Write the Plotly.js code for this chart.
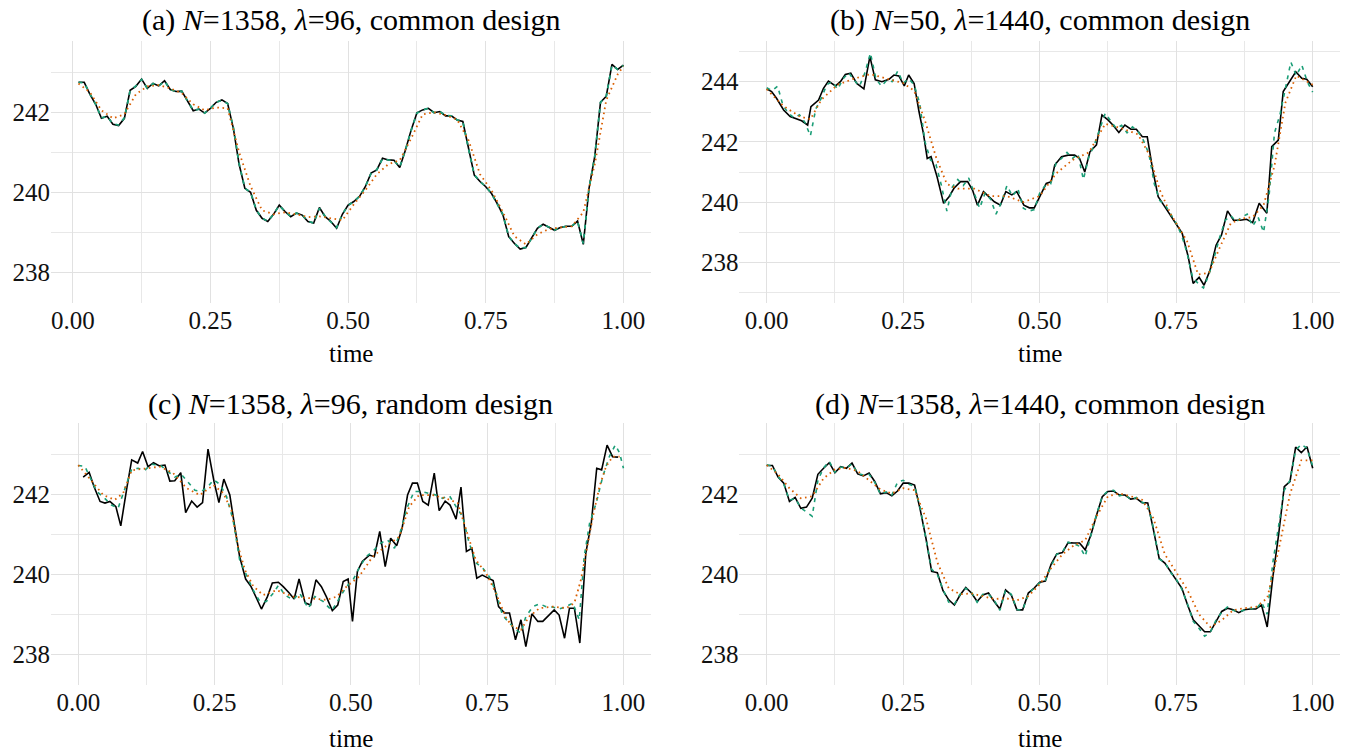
<!DOCTYPE html>
<html><head><meta charset="utf-8">
<script src="https://cdn.plot.ly/plotly-3.0.1.min.js"></script>
<style>body{margin:0;background:#fff}#chart{width:1351px;height:754px}</style>
</head><body><div id="chart"></div>
<script>
// ---------- axis ticks ----------
const xTickVals = [0, 0.25, 0.5, 0.75, 1];
const xTickText = ['0.00', '0.25', '0.50', '0.75', '1.00'];
const xMinorVals = [0.125, 0.375, 0.625, 0.875];
const yTickValsACD = [238, 240, 242];
const yMinorACD = [239, 241, 243];
const yTickValsB = [238, 240, 242, 244];
const yMinorB = [237, 239, 241, 243, 245];

const panelTitles = [
  '(a) <i>N</i>=1358, <i>λ</i>=96, common design',
  '(b) <i>N</i>=50, <i>λ</i>=1440, common design',
  '(c) <i>N</i>=1358, <i>λ</i>=96, random design',
  '(d) <i>N</i>=1358, <i>λ</i>=1440, common design'
];
const xAxisTitle = 'time';

// ---------- panel (a) : values on the grid i/96, i = 1..96 ----------
const aBlack = [242.75,242.75,242.45,242.2,241.85,241.9,241.7,241.67,241.85,242.55,
  242.65,242.83,242.6,242.72,242.66,242.79,242.57,242.52,242.53,242.3,
  242.04,242.08,241.98,242.1,242.25,242.31,242.22,241.6,240.7,240.1,
  240.0,239.55,239.35,239.27,239.45,239.68,239.52,239.39,239.48,239.43,
  239.27,239.23,239.62,239.39,239.27,239.1,239.45,239.68,239.77,239.9,
  240.14,240.48,240.56,240.85,240.81,240.8,240.62,241.06,241.56,241.99,
  242.06,242.1,241.99,242.02,241.91,241.91,241.81,241.77,241.06,240.43,
  240.27,240.14,239.97,239.72,239.43,238.89,238.72,238.58,238.62,238.85,
  239.1,239.2,239.12,239.05,239.12,239.15,239.15,239.28,238.7,240.1,
  240.9,242.25,242.4,243.2,243.07,243.18];
const aGreen = [242.75,242.74,242.46,242.2,241.86,241.9,241.71,241.68,241.86,242.54,
  242.66,242.82,242.6,242.72,242.66,242.78,242.57,242.52,242.53,242.3,
  242.05,242.08,241.98,242.1,242.25,242.3,242.22,241.62,240.72,240.1,
  240.0,239.56,239.35,239.28,239.45,239.67,239.52,239.4,239.48,239.43,
  239.28,239.23,239.6,239.4,239.27,239.12,239.45,239.67,239.77,239.9,
  240.14,240.47,240.56,240.84,240.81,240.8,240.63,241.06,241.55,241.98,
  242.06,242.1,241.99,242.02,241.92,241.91,241.81,241.77,241.08,240.44,
  240.27,240.14,239.97,239.72,239.44,238.9,238.72,238.6,238.62,238.85,
  239.1,239.2,239.12,239.06,239.12,239.15,239.16,239.27,238.72,240.1,
  240.9,242.25,242.4,243.18,243.07,243.17];
// smooth estimate at i = 1,3,...,95 and 96
const aOrange = [242.72,242.5,242.05,241.85,241.95,242.45,242.65,242.68,242.6,242.48,
  242.2,242.05,242.12,242.1,241.0,240.15,239.55,239.45,239.5,239.45,
  239.38,239.4,239.35,239.3,239.7,240.05,240.45,240.7,240.8,241.35,
  241.95,242.0,241.93,241.82,241.3,240.45,240.05,239.5,238.9,238.7,
  238.95,239.08,239.12,239.15,239.5,240.7,242.3,242.95,243.15];

// ---------- panel (b) ----------
const bBlackTime = [0,0.009,0.018,0.031,0.043,0.055,0.064,0.075,0.081,0.095,0.104,0.113,0.126,0.135,0.144,0.154,0.165,0.178,0.189,0.199,
  0.211,0.224,0.233,0.242,0.252,0.26,0.27,0.279,0.287,0.294,0.301,0.312,0.324,0.334,0.343,0.355,0.368,0.377,0.386,0.397,
  0.407,0.417,0.428,0.438,0.449,0.458,0.471,0.481,0.49,0.5,0.512,0.521,0.5275,0.54,0.552,0.564,0.573,0.5825,0.592,0.604,
  0.614,0.625,0.634,0.645,0.656,0.667,0.677,0.688,0.697,0.707,0.717,0.729,0.741,0.75,0.761,0.772,0.781,0.792,0.801,0.812,
  0.823,0.833,0.844,0.855,0.867,0.879,0.89,0.902,0.916,0.925,0.937,0.946,0.958,0.969,0.98,0.989,1.0];
const bBlack = [243.76,243.67,243.45,243.06,242.84,242.75,242.7,242.56,243.17,243.39,243.78,244.02,243.86,244.0,244.24,244.28,243.94,243.76,244.83,244.06,
  244.0,244.08,244.22,244.19,243.86,244.22,243.94,243.0,242.28,241.45,241.51,240.84,239.96,240.18,240.46,240.68,240.68,240.4,239.9,240.35,
  240.18,240.01,239.9,240.35,240.24,240.35,239.9,239.81,239.81,240.18,240.62,240.68,241.23,241.51,241.56,241.56,241.45,241.0,241.67,241.9,
  242.89,242.73,242.56,242.31,242.56,242.42,242.42,242.17,242.17,241.07,240.18,239.85,239.51,239.24,238.96,238.19,237.3,237.5,237.24,237.74,
  238.57,238.91,239.71,239.4,239.4,239.43,239.32,239.96,239.63,241.84,242.06,243.67,244.0,244.33,244.11,244.08,243.83];
// green: values at time 0.00, 0.01, ..., 1.00
const bGreen = [243.8,243.7,243.85,243.2,242.95,242.8,242.9,242.65,242.2,243.1,
  243.45,243.9,244.0,243.75,244.1,244.3,244.05,243.85,244.3,244.95,
  244.1,243.85,244.05,244.0,244.35,243.95,244.1,243.9,243.3,242.0,
  241.4,241.25,240.55,239.7,240.5,240.75,240.55,240.8,240.3,239.8,
  240.3,240.1,239.6,240.0,240.55,240.2,240.45,239.8,239.7,239.75,
  240.3,240.55,240.6,241.3,241.45,241.65,241.45,241.6,240.75,241.5,
  241.9,242.4,242.95,242.7,242.45,242.55,242.3,242.5,242.35,242.05,
  241.6,240.6,240.05,239.9,239.6,239.3,238.9,238.3,237.5,237.3,
  237.15,237.6,238.2,238.85,239.4,239.55,239.35,239.5,239.6,239.2,
  239.5,239.0,240.2,242.3,242.9,243.8,244.65,244.2,244.55,244.0,
  243.65];
const bOrangeTime = [0,0.03,0.06,0.08,0.1,0.13,0.16,0.19,0.22,0.25,0.27,0.29,0.31,0.33,0.35,0.38,0.41,0.44,0.47,0.5,
  0.53,0.56,0.59,0.62,0.65,0.68,0.7,0.72,0.74,0.77,0.79,0.81,0.83,0.85,0.87,0.89,0.91,0.93,0.95,0.97,0.99,1.0];
const bOrange = [243.75,243.2,242.85,242.75,243.4,243.9,244.1,244.25,244.1,243.95,243.7,242.7,241.5,240.6,240.45,240.45,240.2,240.2,240.0,240.2,
  240.95,241.4,241.65,242.6,242.45,242.25,241.6,240.4,239.6,238.7,237.6,237.65,238.5,239.3,239.45,239.5,239.9,241.2,243.3,244.2,244.0,243.9];

// ---------- panel (c) ----------
const cBlackTime = [0.009,0.02,0.029,0.04,0.049,0.058,0.069,0.078,0.089,0.098,0.109,0.118,0.128,0.138,0.149,0.159,0.168,0.177,0.188,0.197,
  0.208,0.218,0.228,0.238,0.249,0.258,0.267,0.278,0.287,0.296,0.307,0.317,0.327,0.336,0.347,0.356,0.367,0.376,0.387,0.396,
  0.405,0.416,0.426,0.436,0.446,0.455,0.466,0.476,0.486,0.495,0.503,0.512,0.521,0.534,0.543,0.553,0.563,0.573,0.584,0.594,
  0.604,0.613,0.622,0.632,0.642,0.653,0.662,0.673,0.682,0.693,0.702,0.712,0.722,0.731,0.741,0.751,0.761,0.771,0.782,0.791,
  0.802,0.812,0.821,0.832,0.843,0.852,0.863,0.873,0.882,0.892,0.901,0.91,0.92,0.931,0.941,0.951,0.96,0.97,0.98,0.99];
const cBlack = [242.43,242.55,242.19,241.82,241.78,241.82,241.69,241.21,242.15,242.86,242.78,243.07,242.69,242.79,242.71,242.73,242.33,242.34,242.54,241.54,
  241.83,241.68,241.79,243.13,242.32,241.79,242.38,241.98,241.19,240.44,239.88,239.69,239.4,239.13,239.44,239.78,239.8,239.69,239.53,239.38,
  239.88,239.29,239.23,239.86,239.69,239.44,239.09,239.23,239.82,239.88,238.82,240.07,240.32,240.48,240.44,241.07,240.19,240.9,240.71,241.15,
  241.98,242.28,242.28,241.82,241.73,242.53,241.59,241.83,241.73,241.38,242.18,240.57,240.65,239.9,239.98,239.9,239.84,239.19,239.03,239.03,
  238.36,238.86,238.19,239.01,238.82,238.82,238.98,239.11,238.98,238.4,239.15,239.15,238.28,240.53,241.28,242.65,242.61,243.23,242.94,242.93];
const cGreenTime = [0,0.012,0.021,0.034,0.046,0.061,0.073,0.086,0.098,0.11,0.122,0.134,0.15,0.162,0.177,0.189,0.202,0.214,0.226,0.238,
  0.248,0.26,0.272,0.284,0.296,0.309,0.321,0.333,0.345,0.358,0.367,0.379,0.394,0.406,0.422,0.434,0.449,0.465,0.48,0.492,
  0.504,0.515,0.528,0.54,0.555,0.567,0.58,0.592,0.604,0.616,0.629,0.641,0.656,0.668,0.681,0.693,0.705,0.717,0.73,0.742,
  0.754,0.766,0.778,0.791,0.803,0.812,0.821,0.834,0.846,0.858,0.87,0.882,0.895,0.907,0.919,0.928,0.938,0.95,0.962,0.974,
  0.985,0.993,1.0];
const cGreen = [242.72,242.7,242.44,242.07,241.93,241.73,241.65,242.15,242.63,242.65,242.6,242.75,242.73,242.6,242.43,242.5,242.28,242.1,242.07,242.19,
  242.36,242.25,241.94,241.36,240.36,239.94,239.6,239.32,239.32,239.53,239.72,239.48,239.36,239.53,239.15,239.44,239.32,239.09,239.44,239.69,
  239.86,240.15,240.44,240.57,240.78,240.86,240.65,241.11,241.69,242.07,242.07,242.03,241.98,241.9,241.96,241.69,241.44,240.78,240.28,240.15,
  239.94,239.57,238.98,238.78,238.61,238.53,238.94,239.19,239.26,239.19,239.18,239.13,239.19,239.28,238.86,240.44,241.28,241.78,242.44,242.94,
  243.23,243.03,242.65];
const cOrangeTime = [0,0.0275,0.046,0.067,0.0825,0.098,0.125,0.15,0.174,0.199,0.223,0.248,0.266,0.281,0.293,0.306,0.321,0.339,0.364,0.394,
  0.425,0.455,0.474,0.492,0.515,0.54,0.564,0.589,0.607,0.625,0.65,0.674,0.696,0.711,0.729,0.748,0.766,0.785,0.797,0.812,
  0.827,0.846,0.87,0.895,0.91,0.922,0.931,0.944,0.956,0.968,0.98,0.993];
const cOrange = [242.73,242.28,241.98,241.86,242.03,242.6,242.65,242.69,242.53,242.15,241.98,242.23,242.03,241.6,240.7,240.1,239.7,239.48,239.6,239.44,
  239.4,239.36,239.44,239.69,239.94,240.44,240.7,240.94,241.69,241.98,241.98,241.9,241.78,241.11,240.36,240.03,239.53,238.9,238.69,238.61,
  238.94,239.15,239.19,239.15,239.28,239.86,240.53,241.44,242.19,242.69,242.94,242.94];

// ---------- panel (d) : values on the grid i/96, i = 0..96 ----------
const dBlack = [242.72,242.72,242.43,242.28,241.82,241.92,241.65,241.68,241.9,242.5,
  242.65,242.79,242.54,242.69,242.65,242.78,242.51,242.46,242.53,242.32,
  242.01,242.04,241.96,242.08,242.28,242.28,242.23,241.61,240.9,240.07,
  240.04,239.59,239.36,239.23,239.48,239.67,239.53,239.32,239.48,239.53,
  239.32,239.13,239.61,239.48,239.11,239.11,239.53,239.65,239.8,239.83,
  240.25,240.51,240.54,240.79,240.78,240.78,240.61,240.98,241.48,241.94,
  242.07,242.08,241.98,241.98,241.88,241.9,241.79,241.78,241.11,240.4,
  240.28,240.07,239.86,239.65,239.23,238.86,238.71,238.56,238.56,238.82,
  239.07,239.15,239.11,239.04,239.11,239.13,239.13,239.23,238.68,239.94,
  240.98,242.19,242.32,243.18,243.04,243.19,242.65];
const dGreen = [242.74,242.7,242.45,242.26,241.85,241.9,241.66,241.55,241.45,242.35,
  242.66,242.82,242.55,242.68,242.66,242.76,242.52,242.48,242.5,242.3,
  242.0,242.06,241.98,242.3,242.35,242.25,242.2,241.65,240.85,240.12,
  240.0,239.62,239.3,239.25,239.5,239.65,239.55,239.3,239.5,239.5,
  239.35,239.1,239.6,239.5,239.12,239.1,239.5,239.66,239.78,239.85,
  240.2,240.5,240.56,240.8,240.76,240.7,240.45,241.0,241.5,241.95,
  242.08,242.1,241.96,242.0,241.86,241.92,241.8,241.75,241.15,240.38,
  240.3,240.05,239.88,239.62,239.25,238.82,238.65,238.45,238.55,238.85,
  239.05,239.18,239.1,239.06,239.1,239.15,239.12,239.3,239.0,240.3,
  241.2,242.1,242.35,243.1,243.25,243.15,242.7];
// smooth estimate at i = 0,2,...,96
const dOrange = [242.73,242.5,242.15,241.9,241.95,242.4,242.62,242.66,242.58,242.35,
  242.12,242.02,242.15,242.1,241.4,240.3,239.65,239.5,239.52,239.45,
  239.38,239.4,239.35,239.45,239.75,240.15,240.5,240.72,240.85,241.45,
  241.95,242.02,241.95,241.86,241.4,240.5,240.05,239.6,239.0,238.68,
  238.85,239.1,239.15,239.18,239.4,240.6,242.0,242.85,242.85];

// ---------- drawing ----------
const FONT = '"Liberation Serif", "DejaVu Serif", serif';
const GREEN = '#1B9E77', ORANGE = '#D95F02', BLACK = '#000000';
const GRID = '#e1e1e1', GRIDMIN = '#e8e8e8';

function gridTimes(startIdx, endIdx, step) {
  const t = [];
  for (let i = startIdx; i <= endIdx; i += step) t.push(i / 96);
  return t;
}
const aTime = gridTimes(1, 96, 1);
const aOrangeTime = gridTimes(1, 95, 2).concat([1]);
const bGreenTime = bGreen.map((_, k) => k / 100);
const dTime = gridTimes(0, 96, 1);
const dOrangeTime = gridTimes(0, 96, 2);

function line(x, y, color, width, dash, xa, ya) {
  return {x, y, type: 'scatter', mode: 'lines', xaxis: xa, yaxis: ya, hoverinfo: 'skip',
    line: {color, width, dash, shape: 'linear'}, showlegend: false};
}
const GDASH = '4px,5px', ODOT = '1.6px,3.6px';
const traces = [
  line(aTime, aBlack, BLACK, 1.6, 'solid', 'x', 'y'),
  line(aTime, aGreen, GREEN, 1.8, GDASH, 'x', 'y'),
  line(aOrangeTime, aOrange, ORANGE, 1.8, ODOT, 'x', 'y'),

  line(bBlackTime, bBlack, BLACK, 1.6, 'solid', 'x2', 'y2'),
  line(bGreenTime, bGreen, GREEN, 1.6, GDASH, 'x2', 'y2'),
  line(bOrangeTime, bOrange, ORANGE, 1.8, ODOT, 'x2', 'y2'),

  line(cBlackTime, cBlack, BLACK, 1.6, 'solid', 'x3', 'y3'),
  line(cGreenTime, cGreen, GREEN, 1.6, GDASH, 'x3', 'y3'),
  line(cOrangeTime, cOrange, ORANGE, 1.8, ODOT, 'x3', 'y3'),

  line(dTime, dBlack, BLACK, 1.6, 'solid', 'x4', 'y4'),
  line(dTime, dGreen, GREEN, 1.6, GDASH, 'x4', 'y4'),
  line(dOrangeTime, dOrange, ORANGE, 1.8, ODOT, 'x4', 'y4')
];

const W = 1351, H = 754;
const colL = [51 / W, 650.7 / W], colR = [739.4 / W, 1340 / W];
const rowT = [1 - 303.3 / H, 1 - 40.7 / H], rowB = [1 - 685 / H, 1 - 422.7 / H];
const tickFont = {family: FONT, size: 25, color: '#111111'};

function xAxis(domain, range, anchor) {
  return {domain, range, anchor, tickmode: 'array', tickvals: xTickVals, ticktext: xTickText,
    showgrid: true, gridcolor: GRID, gridwidth: 1, zeroline: false, showline: false, ticks: '',
    minor: {tickmode: 'array', tickvals: xMinorVals, showgrid: true, gridcolor: GRIDMIN, gridwidth: 1},
    tickfont: tickFont, fixedrange: true};
}
function yAxis(domain, range, anchor, ticks, minorTicks) {
  return {domain, range, anchor, tickmode: 'array', tickvals: ticks, ticktext: ticks.map(String),
    showgrid: true, gridcolor: GRID, gridwidth: 1, zeroline: false, showline: false, ticks: '',
    minor: {tickmode: 'array', tickvals: minorTicks, showgrid: true, gridcolor: GRIDMIN, gridwidth: 1},
    tickfont: tickFont, fixedrange: true};
}

const centers = [(colL[0] + colL[1]) / 2, (colR[0] + colR[1]) / 2];
const annotations = [];
const titleY = [1 - 20 / H, 1 - 20 / H, 1 - 404 / H, 1 - 404 / H];
const timeY = [1 - 354 / H, 1 - 354 / H, 1 - 738 / H, 1 - 738 / H];
for (let k = 0; k < 4; k++) {
  const cx = centers[k % 2];
  annotations.push({text: panelTitles[k], xref: 'paper', yref: 'paper', x: cx, y: titleY[k],
    xanchor: 'center', yanchor: 'middle', showarrow: false, font: {family: FONT, size: 30, color: '#000'}});
  annotations.push({text: xAxisTitle, xref: 'paper', yref: 'paper', x: cx, y: timeY[k],
    xanchor: 'center', yanchor: 'middle', showarrow: false, font: {family: FONT, size: 25, color: '#000'}});
}

const layout = {
  width: W, height: H, margin: {l: 0, r: 0, t: 0, b: 0},
  paper_bgcolor: '#fff', plot_bgcolor: '#fff', showlegend: false,
  font: {family: FONT},
  xaxis: xAxis(colL, [-0.0395, 1.0495], 'y'),
  yaxis: yAxis(rowT, [237.225, 243.79], 'x', yTickValsACD, yMinorACD),
  xaxis2: xAxis(colR, [-0.05, 1.05], 'y2'),
  yaxis2: yAxis(rowT, [236.64, 245.36], 'x2', yTickValsB, yMinorB),
  xaxis3: xAxis(colL, [-0.05, 1.05], 'y3'),
  yaxis3: yAxis(rowB, [237.23, 243.79], 'x3', yTickValsACD, yMinorACD),
  xaxis4: xAxis(colR, [-0.05, 1.05], 'y4'),
  yaxis4: yAxis(rowB, [237.23, 243.79], 'x4', yTickValsACD, yMinorACD),
  annotations
};

Plotly.newPlot('chart', traces, layout, {staticPlot: true, displayModeBar: false});
</script>
</body></html>
